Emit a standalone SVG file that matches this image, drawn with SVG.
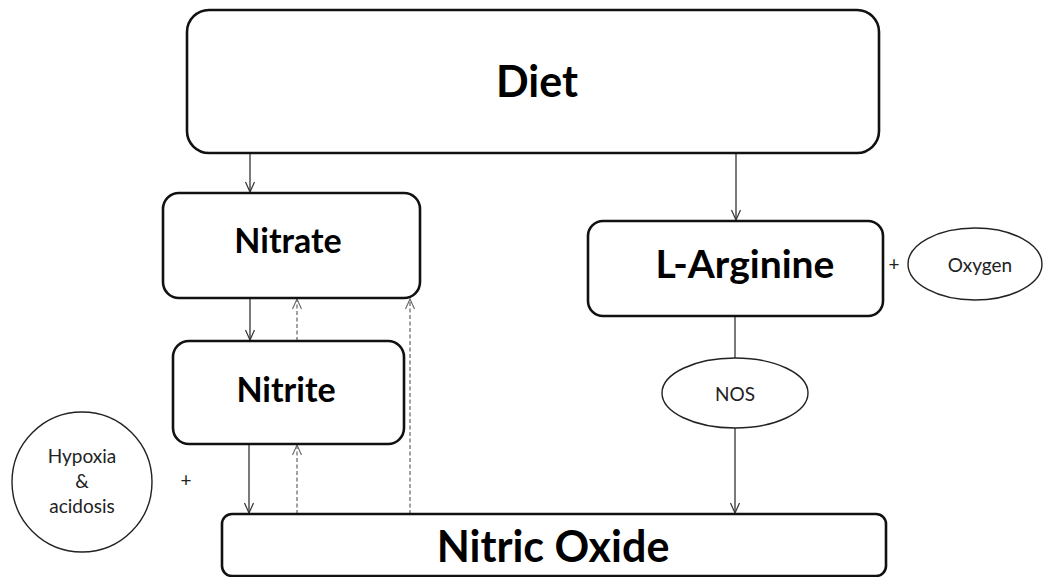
<svg xmlns="http://www.w3.org/2000/svg" width="1044" height="577" viewBox="0 0 1044 577">
<style>
.box{fill:#fff;stroke:#111;stroke-width:2.6}
.oval{fill:#fff;stroke:#222;stroke-width:1.4}
.big{font-family:Lato,"Liberation Sans",sans-serif;font-weight:bold;fill:#000;text-anchor:middle}
.small{font-family:Lato,"Liberation Sans",sans-serif;fill:#222;text-anchor:middle;font-size:19px}
.solid{stroke:#333;stroke-width:1.3;fill:none}
.dash{stroke:#555;stroke-width:1.1;fill:none;stroke-dasharray:4 2.5}
</style>
<defs>
<marker id="ah" markerUnits="userSpaceOnUse" markerWidth="12" markerHeight="12" refX="11" refY="6" orient="auto" viewBox="0 0 12 12">
<path d="M1,1.5 L11,6 L1,10.5" fill="none" stroke="#333" stroke-width="1.2"/>
</marker>
<marker id="ahd" markerUnits="userSpaceOnUse" markerWidth="12" markerHeight="12" refX="11" refY="6" orient="auto" viewBox="0 0 12 12">
<path d="M1,1.5 L11,6 L1,10.5" fill="none" stroke="#666" stroke-width="1.1"/>
</marker>
</defs>
<g id="connectors">
<line class="solid" x1="250" y1="154" x2="250" y2="192" marker-end="url(#ah)"/>
<line class="solid" x1="736" y1="154" x2="736" y2="220" marker-end="url(#ah)"/>
<line class="solid" x1="250" y1="299" x2="250" y2="340" marker-end="url(#ah)"/>
<line class="solid" x1="249" y1="445" x2="249" y2="513" marker-end="url(#ah)"/>
<line class="solid" x1="735" y1="317" x2="735" y2="358"/>
<line class="solid" x1="735" y1="428" x2="735" y2="513" marker-end="url(#ah)"/>
<line class="dash" x1="297" y1="341" x2="297" y2="299" marker-end="url(#ahd)"/>
<line class="dash" x1="297" y1="514" x2="297" y2="445" marker-end="url(#ahd)"/>
<line class="dash" x1="410" y1="514" x2="410" y2="299" marker-end="url(#ahd)"/>
</g>
<g id="diet">
<rect class="box" x="187" y="10" width="692" height="143" rx="22"/>
<text class="big" x="537" y="97" font-size="43">Diet</text>
</g>
<g id="nitrate">
<rect class="box" x="163" y="193" width="257" height="105" rx="16"/>
<text class="big" x="288" y="253" font-size="34">Nitrate</text>
</g>
<g id="nitrite">
<rect class="box" x="173" y="341" width="231" height="103" rx="16"/>
<text class="big" x="286" y="402" font-size="34">Nitrite</text>
</g>
<g id="larginine">
<rect class="box" x="588" y="221" width="295" height="95" rx="15"/>
<text class="big" x="745" y="278" font-size="39">L-Arginine</text>
</g>
<g id="oxygen">
<text class="small" x="894" y="271" font-size="17">+</text>
<ellipse class="oval" cx="975" cy="264" rx="67" ry="36"/>
<text class="small" x="980" y="272" font-size="21">Oxygen</text>
</g>
<g id="nos">
<ellipse class="oval" cx="735" cy="393" rx="73" ry="35"/>
<text class="small" x="735" y="401" font-size="20">NOS</text>
</g>
<g id="hypoxia">
<circle class="oval" cx="82" cy="482" r="70"/>
<text class="small" x="82" y="463">Hypoxia</text>
<text class="small" x="82" y="488">&amp;</text>
<text class="small" x="82" y="513">acidosis</text>
<text class="small" x="186" y="487" font-size="17">+</text>
</g>
<g id="nitricoxide">
<rect class="box" x="222" y="514" width="664" height="62" rx="10"/>
<text class="big" x="553" y="562" font-size="43">Nitric Oxide</text>
</g>
</svg>
